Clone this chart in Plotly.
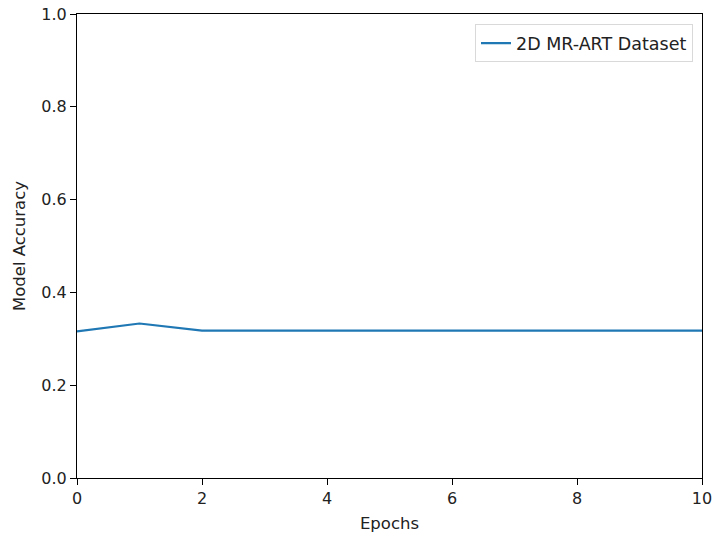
import plotly.graph_objects as go

epochs = [0, 1, 2, 3, 4, 5, 6, 7, 8, 9, 10]
accuracy = [0.316, 0.333, 0.3175, 0.3175, 0.3175, 0.3175, 0.3175, 0.3175, 0.3175, 0.3175, 0.3175]
series_name = "2D MR-ART Dataset"
x_ticks = [0, 2, 4, 6, 8, 10]
y_ticks = [0, 0.2, 0.4, 0.6, 0.8, 1.0]
y_ticktext = ["0.0", "0.2", "0.4", "0.6", "0.8", "1.0"]

FS = 16

fig = go.Figure()
fig.add_trace(go.Scatter(x=epochs, y=accuracy, mode="lines", name=series_name,
                         line=dict(color="#1f77b4", width=2.2)))

axis_common = dict(showline=True, linecolor="black", linewidth=1.1, mirror=True,
                   ticks="outside", ticklen=6, tickcolor="black", showgrid=False,
                   zeroline=False, automargin=False, ticklabeloverflow="allow",
                   tickfont=dict(family="DejaVu Sans", size=FS, color="#222"))

fig.update_layout(
    width=712, height=537,
    margin=dict(l=77, r=10, t=14, b=59, autoexpand=False),
    paper_bgcolor="white", plot_bgcolor="white",
    font=dict(family="DejaVu Sans", size=FS, color="#222"),
    showlegend=True,
    legend=dict(x=0.9856, y=0.978, xanchor="right", yanchor="top",
                bordercolor="#d9d9d9", borderwidth=1, bgcolor="white",
                font=dict(family="DejaVu Sans", size=17.5)),
    xaxis=dict(range=[0, 10], tickvals=x_ticks,
               title=dict(text="Epochs", standoff=10, font=dict(size=16.5)), **axis_common),
    yaxis=dict(range=[0, 1], tickvals=y_ticks, ticktext=y_ticktext,
               title=dict(text="Model Accuracy", standoff=11, font=dict(size=16.5)), **axis_common),
)

# Remove the browser's default body margin so the figure sits at the page origin.
fig.write_html("out.html",
               config={"displayModeBar": False},
               post_script="document.body.style.margin='0';document.body.style.overflow='hidden';")
